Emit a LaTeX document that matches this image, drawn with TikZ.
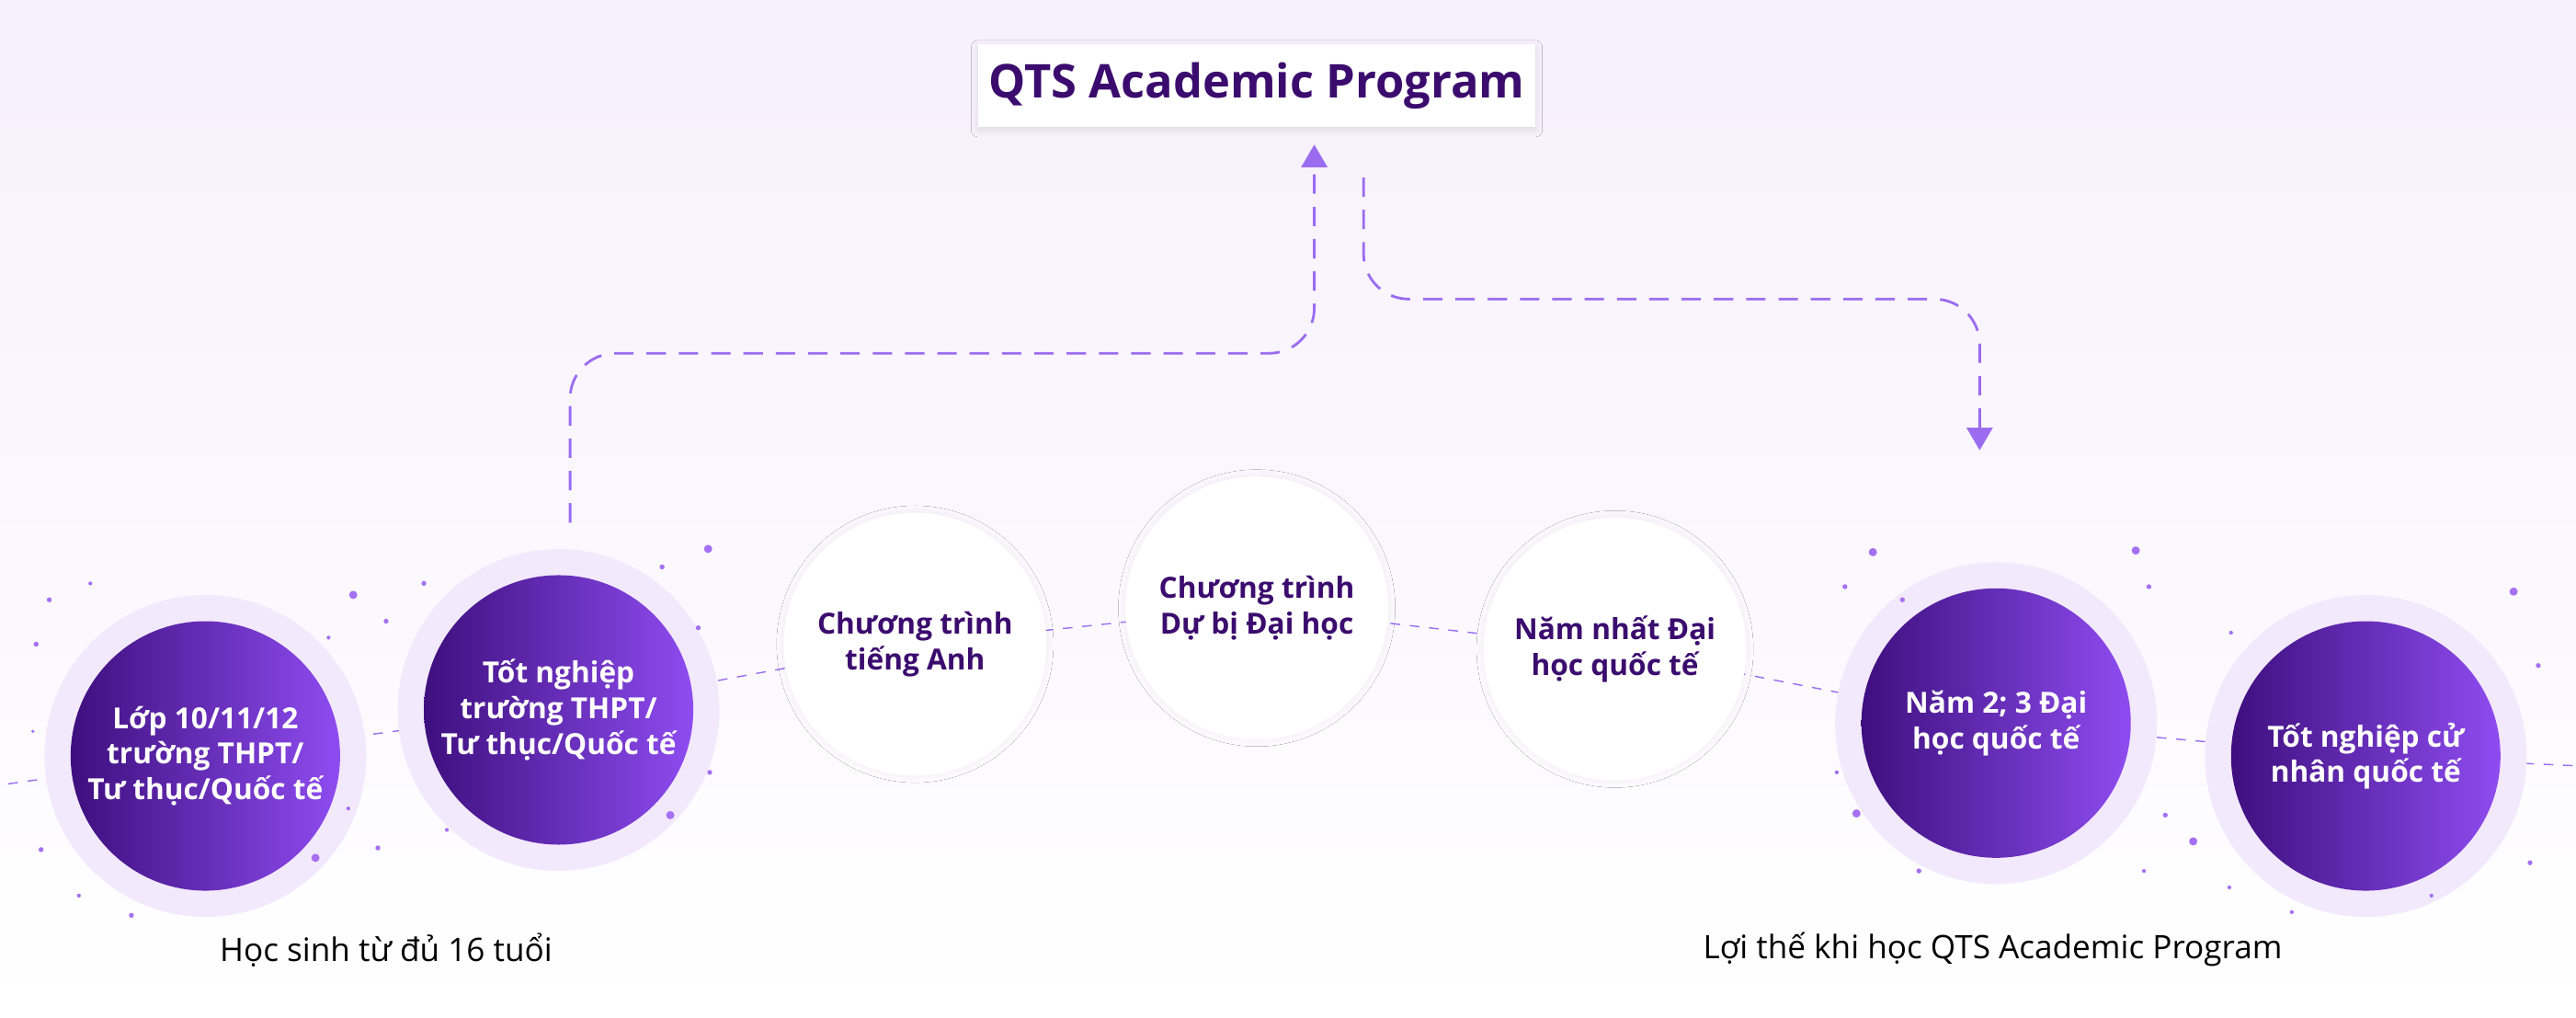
\documentclass[tikz,border=0pt]{standalone}
\usepackage{fontspec}
\setmainfont{Open Sans}
\usetikzlibrary{arrows.meta,shadows.blur}
\definecolor{ink}{HTML}{3B0C6E}
\definecolor{deep}{HTML}{3E0F7E}
\definecolor{vio}{HTML}{8E4CF0}
\definecolor{halo}{HTML}{F3E9FC}
\definecolor{lilac}{HTML}{9B6CF0}
\tikzset{
  stage/.style={circle,minimum size=2.93cm,left color=deep,right color=vio,
    text=white,font=\bfseries\small,align=center,inner sep=0pt},
  stagehalo/.style={circle,fill=halo,minimum size=3.5cm},
  plain/.style={circle,minimum size=2.86cm,fill=white,text=ink,
    font=\bfseries\small,align=center,inner sep=0pt,
    blur shadow={shadow blur steps=8,shadow xshift=0pt,shadow yshift=0pt,shadow opacity=6}},
  link/.style={lilac,thin,dashed},
  route/.style={lilac,thick,dash pattern=on 6pt off 4pt,rounded corners=14pt,-{Triangle[length=7pt,width=8pt]}},
  speck/.style={fill=vio!80}
}
\begin{document}
\begin{tikzpicture}[x=0.01787cm,y=-0.01787cm]
\shade[top color=halo!70,bottom color=white] (0,0) rectangle (1568,619);
\useasboundingbox (0,0) rectangle (1568,619);
% title
\node[fill=white,minimum width=5.45cm,minimum height=0.9cm,text=ink,font=\bfseries\Large,
  blur shadow={shadow blur steps=8,shadow xshift=0pt,shadow yshift=-1pt,shadow opacity=10}]
  (title) at (765,52) {QTS Academic Program};
% zigzag link line
\coordinate (west) at (5,477);
\coordinate (east) at (1568,466);
\draw[link] (west) -- (125,460) -- (340,432) -- (557,392) -- (765,370) -- (983,395)
  -- (1215,440) -- (1440,460) -- (east);
% halos
\foreach \x/\y in {125/460,340/432,1215/440,1440/460}
  \node[stagehalo] at (\x,\y) {};
% dots
\foreach \x/\y/\r in {30/365/1.5,55/355/1.2,22/392/1.5,215/362/2.5,235/378/1.5,200/388/1.2,
  192/522/2.5,230/516/1.5,212/492/1.2,25/517/1.5,48/545/1.2,80/557/1.5,20/445/1,
  258/355/1.5,403/345/1.5,431/334/2.5,425/382/1.5,408/496/2.5,432/470/1.5,272/505/1.2,
  1123/357/1.5,1140/336/2.5,1158/365/1.5,1300/335/2.5,1308/357/1.5,1118/470/1.2,
  1130/495/2.5,1168/530/1.5,1318/496/1.5,1335/512/2.5,1305/530/1.2,
  1358/385/1.2,1530/360/2.5,1545/405/1.5,1540/525/1.5,1395/555/1.2,1480/545/1.2,1357/540/1.2}
  \fill[speck] (\x,\y) circle (\r);
% stages
\node[stage] (grade) at (125,460) {Lớp 10/11/12\\trường THPT/\\Tư thục/Quốc tế};
\node[stage] (school) at (340,432) {Tốt nghiệp\\trường THPT/\\Tư thục/Quốc tế};
\node[plain] (english) at (557,392) {Chương trình\\tiếng Anh};
\node[plain] (prep) at (765,370) {Chương trình\\Dự bị Đại học};
\node[plain] (first) at (983,395) {Năm nhất Đại\\học quốc tế};
\node[stage] (later) at (1215,440) {Năm 2; 3 Đại\\học quốc tế};
\node[stage] (grad) at (1440,460) {Tốt nghiệp cử\\nhân quốc tế};
% captions
\node (young) at (235,578) {Học sinh từ đủ 16 tuổi};
\node (gain) at (1213,578) {Lợi thế khi học QTS Academic Program};
% routes
\coordinate (up) at (800,88);
\coordinate (down) at (1205,274);
\draw[route] (347,318) -- (347,215) -- (800,215) -- (up);
\draw[route] (830,108) -- (830,182) -- (1205,182) -- (down);
\end{tikzpicture}
\end{document}
